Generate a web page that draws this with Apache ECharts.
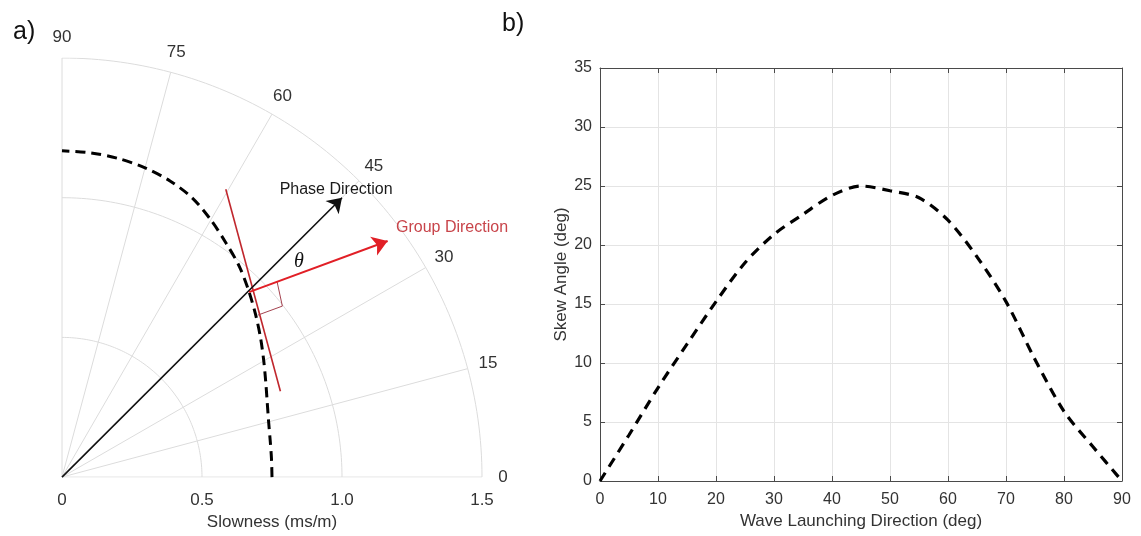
<!DOCTYPE html>
<html>
<head>
<meta charset="utf-8">
<script src="https://cdn.jsdelivr.net/npm/echarts@6/dist/echarts.min.js"></script>
<style>
  html, body { margin: 0; padding: 0; background: #fff; }
  #chart { width: 1141px; height: 536px; }
</style>
</head>
<body>
<div id="chart"></div>
<script>
// ---- panel a: slowness curve in a quarter polar frame ----
const angleTicks = [0, 15, 30, 45, 60, 75, 90];          // deg
const radiusTicks = [0.5, 1.0, 1.5];                     // ms/m
const radiusTickLabels = ['0', '0.5', '1.0', '1.5'];
const slownessAngle = [0, 5, 10, 15, 20, 25, 30, 35, 40, 45, 50, 55, 60, 65, 70, 75, 80, 85, 90];
const slowness = [0.750, 0.751, 0.755, 0.764, 0.780, 0.803, 0.832, 0.866, 0.903, 0.943,
                  0.985, 1.022, 1.063, 1.102, 1.128, 1.146, 1.158, 1.165, 1.168];

// annotation geometry (ms/m, x = s·cosφ, y = s·sinφ)
const phaseStart = [0, 0];
const phaseTip = [1.0, 1.0];
const groupStart = [0.668, 0.662];
const groupTip = [1.163, 0.845];
const tangentLine = [[0.585, 1.03], [0.78, 0.307]];
const rightAngleMark = [[0.768, 0.700], [0.787, 0.612], [0.700, 0.580]];
const phaseLabelAt = [0.979, 1.029];
const groupLabelAt = [1.393, 0.893];
const thetaLabelAt = [0.846, 0.771];

// ---- panel b: skew angle vs launching direction ----
const launchDir = [0, 5, 10, 15, 20, 25, 30, 35, 40, 45, 50, 55, 60, 65, 70, 75, 80, 85, 90];
const skewAngle = [0, 3.9, 7.9, 11.6, 15.2, 18.5, 20.9, 22.6, 24.2, 25.0,
                   24.6, 24.0, 22.1, 19.0, 15.2, 10.3, 5.9, 2.9, 0];

const RMAX = radiusTicks[radiusTicks.length - 1];
const LABEL_R = 1.575;
const rad = d => d * Math.PI / 180;
const polarPt = (r, d) => [r * Math.cos(rad(d)), r * Math.sin(rad(d))];

const gridGray = '#dcdcdc';
const textGray = '#333333';

const frameSeries = [];
radiusTicks.forEach(r => {
  const pts = [];
  for (let d = 0; d <= 90; d += 1) pts.push(polarPt(r, d));
  frameSeries.push({
    type: 'line', xAxisIndex: 0, yAxisIndex: 0, data: pts, symbol: 'none', silent: true,
    lineStyle: { color: gridGray, width: 1 }, z: 1
  });
});
angleTicks.forEach(d => {
  frameSeries.push({
    type: 'line', xAxisIndex: 0, yAxisIndex: 0, data: [[0, 0], polarPt(RMAX, d)],
    symbol: 'none', silent: true, lineStyle: { color: gridGray, width: 1 }, z: 1
  });
});

const slownessPts = slownessAngle.map((d, i) => polarPt(slowness[i], d));
const angleLabelPts = angleTicks.map(d => polarPt(LABEL_R, d).concat([String(d)]));

function textSeries(points, style) {
  return {
    type: 'scatter', xAxisIndex: 0, yAxisIndex: 0, silent: true, z: 10, clip: false,
    symbol: 'circle', symbolSize: 0, itemStyle: { color: 'rgba(0,0,0,0)', opacity: 1 },
    data: points,
    labelLayout: { hideOverlap: false },
    label: Object.assign({ show: true, position: 'inside', opacity: 1, formatter: p => p.value[2] }, style)
  };
}

const option = {
  animation: false,
  backgroundColor: '#ffffff',
  title: [
    { text: 'a)', left: 8, top: 15, textStyle: { fontSize: 25, fontWeight: 'normal', color: '#111', fontFamily: 'Liberation Sans' } },
    { text: 'b)', left: 497, top: 7, textStyle: { fontSize: 25, fontWeight: 'normal', color: '#111', fontFamily: 'Liberation Sans' } }
  ],
  grid: [
    { left: 62, top: 58, width: 420, height: 420 },
    { left: 600, top: 68, width: 522, height: 413 }
  ],
  xAxis: [
    {
      gridIndex: 0, type: 'value', min: 0, max: RMAX, interval: 0.5,
      axisLine: { show: false }, axisTick: { show: false }, splitLine: { show: false },
      axisLabel: {
        fontSize: 17, color: textGray, margin: 15, fontFamily: 'Liberation Sans',
        formatter: v => radiusTickLabels[Math.round(v / 0.5)]
      },
      name: 'Slowness (ms/m)', nameLocation: 'middle', nameGap: 33,
      nameTextStyle: { fontSize: 17, color: textGray, fontFamily: 'Liberation Sans' }
    },
    {
      gridIndex: 1, type: 'value', min: 0, max: 90, interval: 10,
      axisLine: { onZero: false, lineStyle: { color: '#4a4a4a', width: 1 } },
      axisTick: { inside: true, length: 5, lineStyle: { color: '#4a4a4a' } },
      splitLine: { show: true, lineStyle: { color: '#e4e4e4', width: 1 } },
      axisLabel: { fontSize: 16, color: textGray, margin: 11, fontFamily: 'Liberation Sans' },
      name: 'Wave Launching Direction (deg)', nameLocation: 'middle', nameGap: 31,
      nameTextStyle: { fontSize: 17, color: textGray, fontFamily: 'Liberation Sans' }
    },
    {
      gridIndex: 1, type: 'value', min: 0, max: 90, interval: 10, position: 'top',
      axisLine: { onZero: false, lineStyle: { color: '#4a4a4a', width: 1 } },
      axisTick: { inside: true, length: 5, lineStyle: { color: '#4a4a4a' } },
      axisLabel: { show: false }, splitLine: { show: false }
    }
  ],
  yAxis: [
    { gridIndex: 0, type: 'value', min: 0, max: RMAX, show: false },
    {
      gridIndex: 1, type: 'value', min: 0, max: 35, interval: 5,
      axisLine: { show: true, onZero: false, lineStyle: { color: '#4a4a4a', width: 1 } },
      axisTick: { show: true, inside: true, length: 5, lineStyle: { color: '#4a4a4a' } },
      splitLine: { show: true, lineStyle: { color: '#e4e4e4', width: 1 } },
      axisLabel: { fontSize: 16, color: textGray, margin: 8, fontFamily: 'Liberation Sans' },
      name: 'Skew Angle (deg)', nameLocation: 'middle', nameGap: 30,
      nameTextStyle: { fontSize: 17, color: textGray, fontFamily: 'Liberation Sans' }
    },
    {
      gridIndex: 1, type: 'value', min: 0, max: 35, interval: 5, position: 'right',
      axisLine: { show: true, onZero: false, lineStyle: { color: '#4a4a4a', width: 1 } },
      axisTick: { show: true, inside: true, length: 5, lineStyle: { color: '#4a4a4a' } },
      axisLabel: { show: false }, splitLine: { show: false }
    }
  ],
  series: frameSeries.concat([
    // slowness curve
    {
      type: 'line', xAxisIndex: 0, yAxisIndex: 0, data: slownessPts, smooth: 0.3,
      symbol: 'none', silent: true, z: 3,
      lineStyle: { color: '#000', width: 3, type: [10, 6] }
    },
    // tangent to the slowness curve
    {
      type: 'line', xAxisIndex: 0, yAxisIndex: 0, data: tangentLine, symbol: 'none', silent: true, z: 4,
      lineStyle: { color: '#c0272d', width: 1.6 }
    },
    // right-angle marker
    {
      type: 'line', xAxisIndex: 0, yAxisIndex: 0, data: rightAngleMark, symbol: 'none', silent: true, z: 4,
      lineStyle: { color: '#a4424f', width: 1 }
    },
    // phase direction arrow
    {
      type: 'lines', coordinateSystem: 'cartesian2d', xAxisIndex: 0, yAxisIndex: 0, silent: true, z: 5,
      symbol: ['none', 'arrow'], symbolSize: [11, 14],
      lineStyle: { color: '#111', width: 1.6, opacity: 1 },
      data: [{ coords: [phaseStart, phaseTip] }]
    },
    // group direction arrow
    {
      type: 'lines', coordinateSystem: 'cartesian2d', xAxisIndex: 0, yAxisIndex: 0, silent: true, z: 5,
      symbol: ['none', 'arrow'], symbolSize: [12, 15],
      lineStyle: { color: '#e11f26', width: 2, opacity: 1 },
      data: [{ coords: [groupStart, groupTip] }]
    },
    // angle tick labels
    textSeries(angleLabelPts, { fontSize: 17, color: textGray, fontFamily: 'Liberation Sans' }),
    textSeries([phaseLabelAt.concat(['Phase Direction'])], { fontSize: 16, color: '#1a1a1a', fontFamily: 'Liberation Sans' }),
    textSeries([groupLabelAt.concat(['Group Direction'])], { fontSize: 16, color: '#c8444a', fontFamily: 'Liberation Sans' }),
    textSeries([thetaLabelAt.concat(['θ'])], { fontSize: 20, color: '#111', fontStyle: 'italic', fontFamily: 'Liberation Serif' }),
    // skew angle curve
    {
      type: 'line', xAxisIndex: 1, yAxisIndex: 1, data: launchDir.map((d, i) => [d, skewAngle[i]]),
      smooth: 0.3, symbol: 'none', silent: true, z: 5,
      lineStyle: { color: '#000', width: 3.2, type: [10, 7] }
    }
  ])
};

const chart = echarts.init(document.getElementById('chart'), null, { renderer: 'canvas' });
chart.setOption(option);
</script>
</body>
</html>
